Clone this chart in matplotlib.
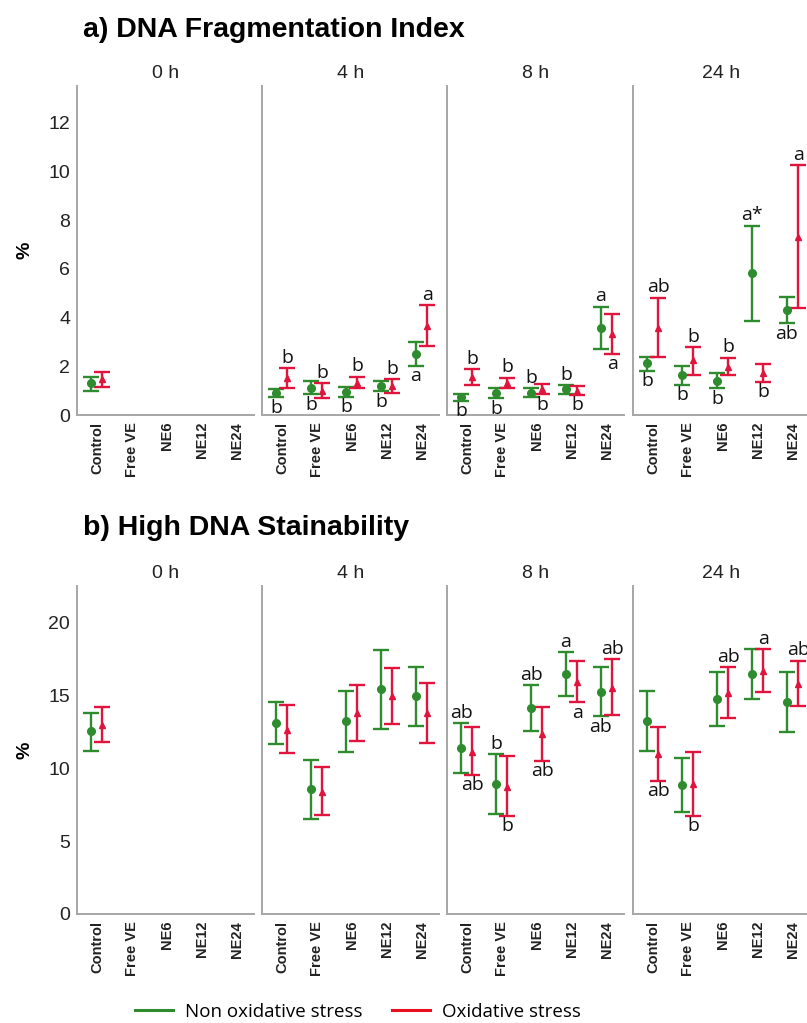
import matplotlib.pyplot as plt
import numpy as np

nan = np.nan

# data
times = ['0 h', '4 h', '8 h', '24 h']
groups = ['Control', 'Free VE', 'NE6', 'NE12', 'NE24']

# a) DNA Fragmentation Index (%), mean and error bar ends
dfi_non_mean = [[1.30, nan, nan, nan, nan], [0.92, 1.12, 0.96, 1.19, 2.50],
                [0.73, 0.92, 0.92, 1.05, 3.58], [2.12, 1.64, 1.41, 5.81, 4.31]]
dfi_non_low = [[0.98, nan, nan, nan, nan], [0.73, 0.85, 0.75, 0.98, 2.01],
               [0.59, 0.68, 0.73, 0.85, 2.69], [1.82, 1.23, 1.09, 3.87, 3.76]]
dfi_non_high = [[1.57, nan, nan, nan, nan], [1.05, 1.41, 1.16, 1.41, 3.01],
                [0.85, 1.09, 1.09, 1.23, 4.45], [2.39, 2.01, 1.74, 7.77, 4.83]]
dfi_ox_mean = [[1.46, nan, nan, nan, nan], [1.50, 0.98, 1.33, 1.19, 3.65],
               [1.57, 1.33, 1.05, 1.00, 3.31], [3.56, 2.26, 1.98, 1.74, 7.29]]
dfi_ox_low = [[1.14, nan, nan, nan, nan], [1.09, 0.71, 1.09, 0.92, 2.85],
              [1.23, 1.09, 0.85, 0.82, 2.50], [2.37, 1.64, 1.64, 1.37, 4.38]]
dfi_ox_high = [[1.78, nan, nan, nan, nan], [1.92, 1.30, 1.57, 1.46, 4.51],
               [1.87, 1.53, 1.27, 1.19, 4.14], [4.82, 2.78, 2.35, 2.09, 10.26]]
dfi_non_letters = [['', '', '', '', ''], ['b', 'b', 'b', 'b', 'a'],
                   ['b', 'b', 'b', 'b', 'a'], ['b', 'b', 'b', 'a*', 'ab']]
dfi_ox_letters = [['', '', '', '', ''], ['b', 'b', 'b', 'b', 'a'],
                  ['b', 'b', 'b', 'b', 'a'], ['ab', 'b', 'b', 'b', 'a']]

# b) High DNA Stainability (%)
hds_non_mean = [[12.52, nan, nan, nan, nan], [13.09, 8.56, 13.25, 15.42, 14.92],
                [11.37, 8.90, 14.16, 16.48, 15.22], [13.27, 8.86, 14.74, 16.48, 14.53]]
hds_non_low = [[11.19, nan, nan, nan, nan], [11.65, 6.50, 11.14, 12.68, 12.93],
               [9.66, 6.84, 12.56, 14.97, 13.55], [11.21, 6.98, 12.91, 14.74, 12.47]]
hds_non_high = [[13.82, nan, nan, nan, nan], [14.51, 10.57, 15.31, 18.12, 16.91],
                [13.09, 10.96, 15.68, 17.94, 16.91], [15.33, 10.69, 16.59, 18.17, 16.57]]
hds_ox_mean = [[12.97, nan, nan, nan, nan], [12.63, 8.40, 13.78, 14.92, 13.78],
               [11.14, 8.74, 12.33, 15.90, 15.49], [10.98, 8.90, 15.15, 16.68, 15.79]]
hds_ox_low = [[11.83, nan, nan, nan, nan], [11.03, 6.80, 11.88, 13.04, 11.76],
              [9.54, 6.73, 10.50, 14.51, 13.62], [9.13, 6.75, 13.43, 15.22, 14.28]]
hds_ox_high = [[14.23, nan, nan, nan, nan], [14.32, 10.11, 15.72, 16.86, 15.88],
               [12.81, 10.85, 14.23, 17.37, 17.48], [12.86, 11.10, 16.93, 18.17, 17.37]]
hds_non_letters = [['', '', '', '', ''], ['', '', '', '', ''],
                   ['ab', 'b', 'ab', 'a', 'ab'], ['', '', '', '', '']]
hds_ox_letters = [['', '', '', '', ''], ['', '', '', '', ''],
                  ['ab', 'b', 'ab', 'a', 'ab'], ['ab', 'b', 'ab', 'a', 'ab']]

# which side of the bar each letter goes (1 above, -1 below)
dfi_non_side = [[1] * 5, [-1, -1, -1, -1, -1], [-1, -1, 1, 1, 1], [-1, -1, -1, 1, -1]]
dfi_ox_side = [[1] * 5, [1, 1, 1, 1, 1], [1, 1, -1, -1, -1], [1, 1, 1, -1, 1]]
hds_non_side = [[1] * 5, [1] * 5, [1, 1, 1, 1, -1], [1] * 5]
hds_ox_side = [[1] * 5, [1] * 5, [-1, -1, -1, -1, 1], [-1, -1, 1, 1, 1]]

green = '#2e8b2e'
red = '#e0143c'
spine_col = '#a6a6a6'
sans = ['Liberation Sans', 'DejaVu Sans']
soft = ['Open Sans', 'DejaVu Sans']

fig = plt.figure(figsize=(8.07, 10.23), dpi=100)
W, H = 807, 1023


def draw_block(top_px, zero_px, ymax, yticks, series, title, title_y):
    fig.text(83 / W, 1 - title_y / H, title, fontsize=20.5, fontweight='bold',
             family=sans, va='center', ha='left')
    lefts = [77, 262, 447, 633]
    for t, left in enumerate(lefts):
        ax = fig.add_axes([left / W, 1 - zero_px / H, 177 / W, (zero_px - top_px) / H])
        x = np.arange(len(groups))
        for (mean, low, high, letters, side, col, mk, ms, dx) in series:
            m = np.array(mean[t])
            err = [m - np.array(low[t]), np.array(high[t]) - m]
            ax.errorbar(x + dx, m, yerr=err, fmt=mk, color=col, ms=ms,
                        elinewidth=1.7, capsize=5.5, capthick=1.7)
            for i in range(len(groups)):
                if letters[t][i] == '':
                    continue
                yv = high[t][i] if side[t][i] > 0 else low[t][i]
                ax.annotate(letters[t][i], (x[i] + dx, yv),
                            xytext=(0, 1 if side[t][i] > 0 else -1),
                            textcoords='offset points', ha='center',
                            va='bottom' if side[t][i] > 0 else 'top',
                            fontsize=14, family=soft, color='#111111')
        ax.set_xlim(-0.57, 4.5)
        ax.set_ylim(0, ymax)
        ax.set_xticks(x)
        ax.set_xticklabels(groups, rotation=90, fontsize=10.5, fontweight='bold',
                           family=sans, color='#222222')
        ax.tick_params(axis='both', length=0, pad=5)
        ax.set_yticks(yticks)
        if t == 0:
            ax.set_yticklabels([str(v) for v in yticks], fontsize=14,
                               family=sans, color='#222222')
        else:
            ax.set_yticklabels([])
        for s in ['top', 'right']:
            ax.spines[s].set_visible(False)
        for s in ['left', 'bottom']:
            ax.spines[s].set_color(spine_col)
            ax.spines[s].set_linewidth(1.4)
        ax.set_title(times[t], fontsize=14, family=sans, pad=6, color='#222222')
        ax.patch.set_alpha(0)
    fig.text(25 / W, 1 - (top_px + zero_px) / 2 / H, '%', rotation=90, fontsize=14,
             fontweight='bold', family=sans, ha='center', va='center')


dfi_series = [
    (dfi_non_mean, dfi_non_low, dfi_non_high, dfi_non_letters, dfi_non_side, green, 'o', 5.5, -0.16),
    (dfi_ox_mean, dfi_ox_low, dfi_ox_high, dfi_ox_letters, dfi_ox_side, red, '^', 4, 0.16),
]
hds_series = [
    (hds_non_mean, hds_non_low, hds_non_high, hds_non_letters, hds_non_side, green, 'o', 5.5, -0.16),
    (hds_ox_mean, hds_ox_low, hds_ox_high, hds_ox_letters, hds_ox_side, red, '^', 4, 0.16),
]

draw_block(86, 415, 13.5, [0, 2, 4, 6, 8, 10, 12], dfi_series,
           'a) DNA Fragmentation Index', 30)
draw_block(586, 914, 22.5, [0, 5, 10, 15, 20], hds_series,
           'b) High DNA Stainability', 528)

handles = [plt.Line2D([], [], color=green, lw=2.2), plt.Line2D([], [], color='#e8101e', lw=2.2)]
fig.legend(handles, ['Non oxidative stress', 'Oxidative stress'], loc='center',
           bbox_to_anchor=(358 / W, 1 - 1012 / H), ncol=2, frameon=False,
           prop={'family': soft, 'size': 13.5}, handlelength=2.0,
           handletextpad=0.65, columnspacing=1.6)

fig.savefig('out.png', dpi=100)
